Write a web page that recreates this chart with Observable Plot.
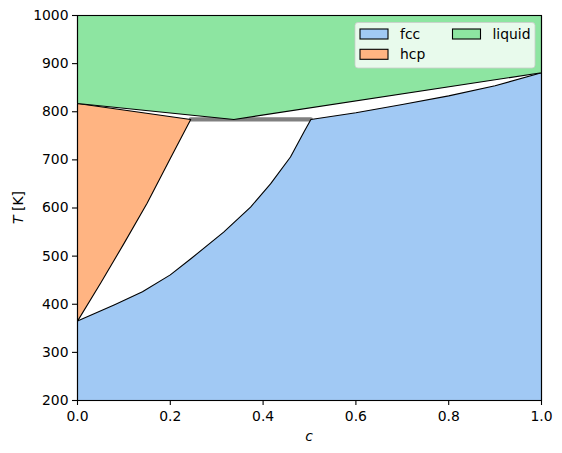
<!DOCTYPE html>
<html>
<head>
<meta charset="utf-8">
<script src="https://cdn.jsdelivr.net/npm/d3@7"></script>
<script src="https://cdn.jsdelivr.net/npm/@observablehq/plot@0.6"></script>
<style>
  html, body { margin: 0; padding: 0; background: white; }
</style>
</head>
<body>
<div id="chart"></div>
<script>
// ---- data ----
const T_RANGE = [200, 1000];
const xTicks = [0, 0.2, 0.4, 0.6, 0.8, 1.0];
const yTicks = [200, 300, 400, 500, 600, 700, 800, 900, 1000];

const phases = ["fcc", "hcp", "liquid"];
const phaseColors = ["#a1c9f4", "#ffb482", "#8de5a1"];

// fcc / (fcc+hcp) boundary, from c=0 up to the eutectic
const fccSolvusC = [0, 0.08, 0.14, 0.2, 0.245, 0.315, 0.373, 0.416, 0.459, 0.488, 0.503];
const fccSolvusT = [365, 399, 426, 461, 495, 550, 602, 650, 706, 758, 784];
// fcc solidus, eutectic to pure B
const fccSolidusC = [0.503, 0.6, 0.7, 0.8, 0.9, 1.0];
const fccSolidusT = [784, 798, 815, 833, 854, 881];
// hcp / (hcp+fcc) boundary
const hcpSolvusC = [0, 0.05, 0.1, 0.15, 0.2, 0.244];
const hcpSolvusT = [365, 444, 526, 610, 703, 784];
// hcp solidus
const hcpSolidusC = [0, 0.244];
const hcpSolidusT = [817, 784];
// liquidus
const liquidusC = [0, 0.337, 1.0];
const liquidusT = [817, 784, 881];
// eutectic line
const eutecticC = [0.244, 0.503];
const eutecticT = 784;

// ---- polygons built from the boundaries ----
const zip = (cs, ts) => cs.map((c, i) => ({c, T: ts[i]}));
const fccPoly = [
  {c: 0, T: T_RANGE[0]},
  ...zip(fccSolvusC, fccSolvusT),
  ...zip(fccSolidusC, fccSolidusT).slice(1),
  {c: 1, T: T_RANGE[0]}
];
const hcpPoly = [
  ...zip(hcpSolvusC, hcpSolvusT),
  ...zip(hcpSolidusC, hcpSolidusT).reverse().slice(1)
];
const liqPoly = [
  {c: 0, T: T_RANGE[1]},
  ...zip(liquidusC, liquidusT),
  {c: 1, T: T_RANGE[1]}
];
const eutectic = eutecticC.map(c => ({c, T: eutecticT}));

const polyOpts = (color) => ({x: "c", y: "T", curve: "linear-closed", fill: color, stroke: "black", strokeWidth: 1.1});

const plot = Plot.plot({
  width: 562,
  height: 453,
  marginLeft: 77,
  marginRight: 21,
  marginTop: 15,
  marginBottom: 53,
  style: {fontFamily: "DejaVu Sans, sans-serif", fontSize: "13.9px", color: "black", background: "white"},
  x: {domain: [0, 1]},
  y: {domain: T_RANGE},
  marks: [
    Plot.line(eutectic, {x: "c", y: "T", stroke: "#808080", strokeWidth: 4.2}),
    Plot.line(fccPoly, polyOpts(phaseColors[0])),
    Plot.line(hcpPoly, polyOpts(phaseColors[1])),
    Plot.line(liqPoly, polyOpts(phaseColors[2])),
    Plot.axisX({ticks: xTicks, tickFormat: d3.format(".1f"), tickSize: 5, tickPadding: 6, label: null, strokeWidth: 1.1}),
    Plot.axisY({ticks: yTicks, tickFormat: d3.format("d"), tickSize: 5, tickPadding: 4, label: null, strokeWidth: 1.1}),
    Plot.frame({stroke: "black", strokeWidth: 1.1})
  ]
});

const svg = d3.select(plot);
// axis labels
const yl = svg.append("text")
  .attr("transform", "translate(23,207.5) rotate(-90)")
  .attr("text-anchor", "middle")
  .attr("font-size", "13.9px").attr("fill", "black");
yl.append("tspan").attr("font-style", "italic").text("T");
yl.append("tspan").text(" [K]");
svg.append("text")
  .attr("x", 309).attr("y", 441)
  .attr("text-anchor", "middle").attr("font-style", "italic")
  .attr("font-size", "13.9px").attr("fill", "black")
  .text("c");

// legend (2 columns, filled column-wise)
const lg = svg.append("g").attr("transform", "translate(355,22.5)");
lg.append("rect").attr("width", 180).attr("height", 45.5).attr("rx", 3)
  .attr("fill", "white").attr("fill-opacity", 0.8)
  .attr("stroke", "#cccccc").attr("stroke-opacity", 0.8);
const colX = [5, 97.5], rowY = [11.5, 31.8];
phases.forEach((p, i) => {
  const col = Math.floor(i / 2), row = i % 2;
  const gx = colX[col], gy = rowY[row];
  lg.append("rect").attr("x", gx).attr("y", gy - 5).attr("width", 28).attr("height", 10)
    .attr("fill", phaseColors[i]).attr("stroke", "black").attr("stroke-width", 1.1);
  lg.append("text").attr("x", gx + 40).attr("y", gy).attr("dy", "0.35em")
    .attr("text-anchor", "start")
    .attr("font-size", "13.9px").attr("fill", "black").text(p);
});

document.getElementById("chart").appendChild(plot);
</script>
</body>
</html>
